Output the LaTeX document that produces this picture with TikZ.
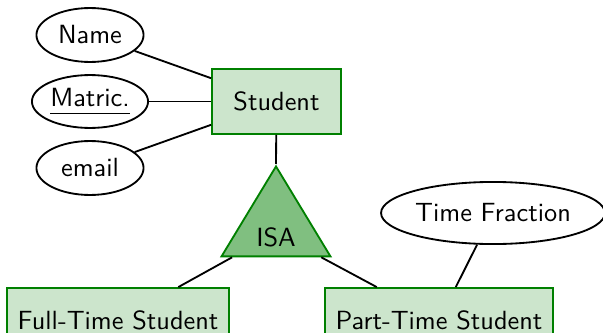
\documentclass[tikz,border=0pt]{standalone}
\usetikzlibrary{shapes.geometric}
\definecolor{ergreen}{rgb}{0,0.5,0}
\begin{document}
\begin{tikzpicture}[x=0.38pt,y=-0.38pt,
  every node/.style={font=\sffamily},
  entity/.style={draw=ergreen, fill=ergreen!20, line width=0.7pt, minimum height=24.7pt, inner sep=2pt},
  attr/.style={draw, ellipse, line width=0.7pt, inner sep=0.5pt},
  isatri/.style={draw=ergreen, fill=ergreen!50, line width=0.7pt, isosceles triangle, shape border rotate=90, isosceles triangle stretches, minimum width=41.4pt, minimum height=34.2pt, inner sep=1pt},
  conn/.style={line width=0.7pt}]
\useasboundingbox (0,0) rectangle (603,333);
\node[attr, minimum width=40.7pt, minimum height=20.5pt] (name) at (90,35) {Name};
\node[attr, minimum width=43.3pt, minimum height=20.1pt] (matric) at (90,101.5) {\underline{Matric.\rule[-1.2pt]{0pt}{1pt}}};
\node[attr, minimum width=40.7pt, minimum height=20.5pt] (email) at (90,168) {email};
\node[entity, minimum width=49pt] (student) at (276.5,101.5) {Student};
\node[isatri, anchor=apex] (isa) at (276,164) {\rule{0pt}{10.5pt}ISA};
\node[entity, minimum width=84.2pt] (ft) at (118,320.5) {Full-Time Student};
\node[entity, minimum width=86.5pt] (pt) at (439,320.5) {Part-Time Student};
\node[attr, minimum width=82.8pt, minimum height=23.6pt] (tf) at (493,213) {Time Fraction};
\draw[conn] (name) -- (student);
\draw[conn] (matric) -- (student);
\draw[conn] (email) -- (student);
\draw[conn] (student) -- (isa.apex);
\draw[conn] (isa) -- (ft);
\draw[conn] (isa) -- (pt);
\draw[conn] (tf) -- (pt);
\end{tikzpicture}
\end{document}
